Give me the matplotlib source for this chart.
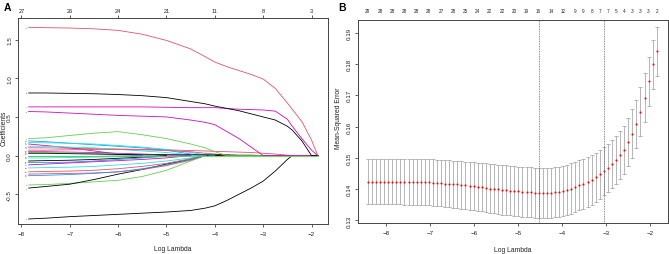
import matplotlib.pyplot as plt
import numpy as np

plt.rcParams['font.family'] = ['Liberation Sans', 'DejaVu Sans']

# R default palette (matplot cycles through the first six)
pal = ['black', '#DF536B', '#61D04F', '#2297E6', '#28E2E5', '#CD0BBC']

# ---------- panel A: coefficient paths ----------
knots = [-7.85, -7.5, -7.0, -6.5, -6.0, -5.5, -5.0, -4.5, -4.2, -4.0,
         -3.75, -3.5, -3.25, -3.0, -2.75, -2.5, -2.4, -2.2, -2.0, -1.87]

red_top = [1.66, 1.655, 1.65, 1.64, 1.62, 1.57, 1.49, 1.38, 1.28, 1.21,
           1.15, 1.10, 1.05, 0.99, 0.87, 0.68, 0.60, 0.44, 0.20, 0.0]
black_top = [0.81, 0.81, 0.805, 0.80, 0.79, 0.775, 0.75, 0.70, 0.67, 0.64,
             0.61, 0.58, 0.54, 0.50, 0.46, 0.38, 0.33, 0.19, 0.0, 0.0]
mag_top = [0.63, 0.63, 0.63, 0.63, 0.63, 0.63, 0.625, 0.62, 0.62, 0.62,
           0.61, 0.60, 0.595, 0.59, 0.575, 0.47, 0.38, 0.22, 0.07, 0.0]
mag_mid = [0.57, 0.565, 0.55, 0.535, 0.52, 0.51, 0.50, 0.46, 0.43, 0.40,
           0.31, 0.22, 0.11, 0.0, 0, 0, 0, 0, 0, 0]
black_low = [-0.82, -0.81, -0.79, -0.775, -0.76, -0.745, -0.73, -0.71, -0.68, -0.65,
             -0.58, -0.50, -0.42, -0.33, -0.20, -0.05, 0.0, 0, 0, 0]
green_top = [0.22, 0.23, 0.26, 0.29, 0.31, 0.27, 0.22, 0.15, 0.10, 0.05,
             0.0, 0, 0, 0, 0, 0, 0, 0, 0, 0]
green_low = [-0.38, -0.375, -0.36, -0.34, -0.32, -0.27, -0.19, -0.07, 0.0, 0,
             0, 0, 0, 0, 0, 0, 0, 0, 0, 0]
black_neg = [-0.42, -0.40, -0.37, -0.31, -0.24, -0.18, -0.11, -0.05, 0.0, 0,
             0, 0, 0, 0, 0, 0, 0, 0, 0, 0]
red_pos = [0.10, 0.10, 0.095, 0.09, 0.085, 0.08, 0.075, 0.065, 0.06, 0.055,
           0.05, 0.045, 0.04, 0.03, 0.02, 0.005, 0.0, 0, 0, 0]

small_paths = [
    (3, [0.19, 0.18, 0.16, 0.14, 0.12, 0.10, 0.07, 0.02, 0.0]),
    (4, [0.17, 0.165, 0.16, 0.15, 0.13, 0.11, 0.08, 0.04, 0.01, 0.0]),
    (5, [0.15, 0.13, 0.10, 0.06, 0.02, 0.0]),
    (4, [0.12, 0.12, 0.11, 0.10, 0.08, 0.06, 0.04, 0.01, 0.0]),
    (1, [0.07, 0.07, 0.075, 0.08, 0.08, 0.075, 0.065, 0.05, 0.03, 0.02, 0.0]),
    (5, [0.05, 0.05, 0.045, 0.04, 0.03, 0.02, 0.01, 0.0]),
    (2, [0.04, 0.04, 0.035, 0.03, 0.02, 0.01, 0.0]),
    (0, [0.03, 0.03, 0.025, 0.02, 0.015, 0.01, 0.01, 0.01, 0.01, 0.01,
         0.01, 0.005, 0.005, 0.0]),
    (3, [-0.01, -0.01, -0.01, -0.01, -0.005, 0.0]),
    (4, [-0.03, -0.03, -0.025, -0.02, -0.015, -0.01, 0.0]),
    (0, [-0.07, -0.065, -0.06, -0.05, -0.035, -0.02, 0.0]),
    (3, [-0.09, -0.09, -0.085, -0.07, -0.05, -0.03, -0.01, 0.0]),
    (5, [-0.12, -0.11, -0.095, -0.08, -0.065, -0.05, -0.03, 0.0]),
    (4, [-0.16, -0.155, -0.15, -0.14, -0.12, -0.10, -0.07, -0.03, 0.0]),
    (1, [-0.21, -0.205, -0.20, -0.19, -0.17, -0.14, -0.10, -0.04, 0.0]),
    (1, [-0.24, -0.235, -0.23, -0.225, -0.21, -0.18, -0.13, -0.06, 0.0]),
    (3, [-0.26, -0.255, -0.245, -0.23, -0.21, -0.17, -0.12, -0.05, 0.0]),
]
big_paths = [(0, black_low), (2, green_low), (0, black_neg), (1, red_pos),
             (2, green_top), (5, mag_mid), (5, mag_top), (0, black_top), (1, red_top)]
zero_path = (2, [0.0] * len(knots))

df_ticks = [-8, -7, -6, -5, -4, -3, -2]
df_labels = ['27', '26', '24', '21', '11', '8', '3']

# ---------- panel B: cross-validation curve ----------
loglam = np.linspace(-8.42, -1.85, 72)
cvm = [0.1424,
       0.1424, 0.1424, 0.1424, 0.1424, 0.1424, 0.1424, 0.1424, 0.1424, 0.1423, 0.1423,
       0.1423, 0.1423, 0.1422, 0.1422, 0.1422, 0.1421, 0.1420, 0.1419, 0.1418, 0.1417,
       0.1416, 0.1415, 0.1413, 0.1412, 0.1410, 0.1409, 0.1407, 0.1406, 0.1404, 0.1402,
       0.1401, 0.1400, 0.1398, 0.1397, 0.1395, 0.1394, 0.1393, 0.1392, 0.1391, 0.1390,
       0.1389, 0.1387, 0.1388, 0.1389, 0.1389, 0.1391, 0.1392, 0.1394, 0.1398, 0.1402,
       0.1406, 0.1412, 0.1417, 0.1423, 0.1430, 0.1438, 0.1447, 0.1458, 0.1468, 0.1480,
       0.1493, 0.1509, 0.1526, 0.1550, 0.1577, 0.1608, 0.1647, 0.1692, 0.1745, 0.1799,
       0.1840]
cvsd = [0.0072, 0.0072, 0.0072, 0.0072, 0.0072, 0.0072, 0.0072, 0.0072, 0.0072, 0.0072,
        0.0072, 0.0072, 0.0073, 0.0073, 0.0073, 0.0073, 0.0074, 0.0074, 0.0074, 0.0074,
        0.0075, 0.0075, 0.0075, 0.0076, 0.0076, 0.0076, 0.0077, 0.0077, 0.0077, 0.0078,
        0.0078, 0.0078, 0.0078, 0.0079, 0.0079, 0.0079, 0.0079, 0.0079, 0.0080, 0.0080,
        0.0080, 0.0080, 0.0079, 0.0080, 0.0080, 0.0080, 0.0080, 0.0080, 0.0080, 0.0080,
        0.0080, 0.0080, 0.0080, 0.0079, 0.0079, 0.0079, 0.0078, 0.0078, 0.0077, 0.0077,
        0.0077, 0.0077, 0.0077, 0.0077, 0.0077, 0.0078, 0.0078, 0.0078, 0.0078, 0.0078,
        0.0078, 0.0078]
nz_idx = [0, 3, 6, 9, 12, 15, 18, 21, 24, 27, 30, 33, 36, 39, 42, 45, 48, 51, 53,
          55, 57, 59, 61, 63, 65, 67, 69, 71]
nz_labels = ['28', '28', '28', '28', '28', '28', '27', '28', '25', '24', '22', '22', '20',
             '19', '16', '14', '12', '9', '9', '8', '7', '7', '5', '4', '3', '3', '3', '2']

W, H = 669, 255
fig = plt.figure(figsize=(W / 100, H / 100), dpi=100)
axc = '#444444'
fs_tick = 4.5
fs_lab = 4.9


def style(ax):
    for s in ax.spines.values():
        s.set_color(axc)
        s.set_linewidth(0.7)
    ax.tick_params(colors=axc, labelcolor='#222222', width=0.6, length=2.5,
                   labelsize=fs_tick, pad=2.4)
    ax.tick_params(axis='y', labelrotation=90, pad=1.8)
    for t in ax.get_yticklabels():
        t.set_va('center')


# panel A
ax1 = fig.add_axes([18 / W, 1 - 225 / H, 310 / W, 206 / H])
for ci, vals in big_paths[:4]:
    ax1.plot(knots[:len(vals)], vals, color=pal[ci], lw=0.6)
for i, (ci, vals) in enumerate(small_paths):
    ax1.plot(knots[:len(vals)], vals, color=pal[ci], lw=0.6)
ax1.plot(knots, zero_path[1], color=pal[zero_path[0]], lw=0.6)
for ci, vals in big_paths[4:]:
    ax1.plot(knots[:len(vals)], vals, color=pal[ci], lw=0.6)
starts = [v[0] for _, v in big_paths] + [v[0] for _, v in small_paths]
for i, y0 in enumerate(starts):
    ax1.text(knots[0] - 0.03, y0, str(i + 1), fontsize=1.6, ha='right', va='center',
             color='#333333')
ax1.set_xlim(-8.07, -1.66)
ax1.set_ylim(-0.885, 1.78)
ax1.set_xticks(df_ticks)
ax1.set_yticks([-0.5, 0.0, 0.5, 1.0, 1.5])
ax1.set_yticklabels(['-0.5', '0.0', '0.5', '1.0', '1.5'])
style(ax1)
ax1.set_xlabel('Log Lambda', fontsize=fs_lab, color='#222222')
ax1.xaxis.set_label_coords(0.5, -(250 - 225) / 206, transform=ax1.transAxes)
ax1.xaxis.label.set_va('center')
ax1.set_ylabel('Coefficients', fontsize=fs_lab, color='#222222')
ax1.yaxis.set_label_coords((4.5 - 18) / 310, 0.47, transform=ax1.transAxes)
ax1.yaxis.label.set_va('center')
top1 = ax1.twiny()
top1.set_xlim(ax1.get_xlim())
top1.set_xticks(df_ticks)
top1.set_xticklabels(df_labels)
top1.tick_params(axis='x', colors=axc, labelcolor='#222222', width=0.6, length=2.5,
                 labelsize=fs_tick - 0.4, pad=1.2)
for s in top1.spines.values():
    s.set_visible(False)

# panel B
ax2 = fig.add_axes([357.7 / W, 1 - 224 / H, 310 / W, 203.3 / H])
ax2.errorbar(loglam, cvm, yerr=cvsd, fmt='none', ecolor='#A9A9A9', elinewidth=0.6,
             capsize=1.5, capthick=0.6)
ax2.plot(loglam, cvm, 'o', color='red', ms=1.5, mec='none')
cvm_a = np.array(cvm)
imin = int(np.argmin(cvm_a))
thr = cvm_a[imin] + cvsd[imin]
i1se = max(i for i in range(len(cvm)) if cvm_a[i] <= thr)
for i in (imin, i1se):
    ax2.axvline(loglam[i], color='#666666', lw=0.6, ls=(0, (1, 1)))
ax2.set_xlim(-8.65, -1.6)
ax2.set_ylim(0.1292, 0.1941)
ax2.set_xticks([-8, -7, -6, -5, -4, -3, -2])
ax2.set_yticks([0.13, 0.14, 0.15, 0.16, 0.17, 0.18, 0.19])
ax2.set_yticklabels(['0.13', '0.14', '0.15', '0.16', '0.17', '0.18', '0.19'])
style(ax2)
ax2.set_xlabel('Log Lambda', fontsize=fs_lab, color='#222222')
ax2.xaxis.set_label_coords(0.5, -(251 - 224) / 203.3, transform=ax2.transAxes)
ax2.xaxis.label.set_va('center')
ax2.set_ylabel('Mean-Squared Error', fontsize=fs_lab, color='#222222')
ax2.yaxis.set_label_coords((339 - 357.7) / 310, 0.52, transform=ax2.transAxes)
ax2.yaxis.label.set_va('center')
top2 = ax2.twiny()
top2.set_xlim(ax2.get_xlim())
top2.set_xticks(loglam[nz_idx])
top2.set_xticklabels(nz_labels)
top2.tick_params(axis='x', length=0, labelsize=3.3, labelcolor='#222222', pad=4.5)
for s in top2.spines.values():
    s.set_visible(False)

fig.text(7 / W, 1 - 8 / H, 'A', fontsize=7.5, fontweight='bold', ha='center', va='center')
fig.text(342 / W, 1 - 8 / H, 'B', fontsize=7.5, fontweight='bold', ha='center', va='center')

fig.savefig('out.png', dpi=100)
